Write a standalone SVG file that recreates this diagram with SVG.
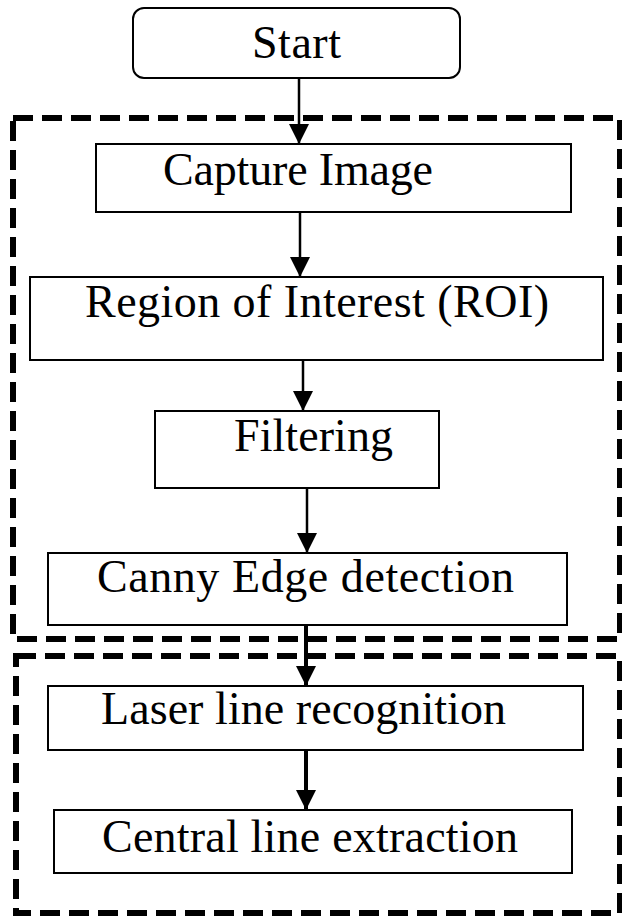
<svg xmlns="http://www.w3.org/2000/svg" width="622" height="918" viewBox="0 0 622 918">
<style>
.box{fill:#fff;stroke:#000;stroke-width:2}
.grp{fill:none;stroke:#000;stroke-width:6;stroke-dasharray:20 9}
.lbl{font-family:"Liberation Serif","Times New Roman",serif;font-size:46px;fill:#000}
.c{stroke:#000;stroke-width:2.5;fill:none}
.ct{stroke:#000;stroke-width:4;fill:none}
</style>
<defs>
<marker id="ah" markerUnits="userSpaceOnUse" markerWidth="20" markerHeight="20" refX="20" refY="10" orient="auto" viewBox="0 0 20 20">
<path d="M0,0 L20,10 L0,20 Z" fill="#000"/>
</marker>
</defs>
<rect width="622" height="918" fill="#fff"/>
<g id="groups">
<rect class="grp" x="13" y="118" width="607" height="521"/>
<rect class="grp" x="16" y="656" width="604" height="257"/>
</g>
<g id="start"><rect class="box" x="133" y="8" width="327" height="70" rx="11"/><text class="lbl" x="252" y="58" textLength="89">Start</text></g>
<g id="capture"><rect class="box" x="96" y="144" width="475" height="68"/><text class="lbl" x="163" y="185" textLength="270">Capture Image</text></g>
<g id="roi"><rect class="box" x="30" y="277" width="573" height="83"/><text class="lbl" x="85" y="317" textLength="464">Region  of Interest (ROI)</text></g>
<g id="filtering"><rect class="box" x="155" y="411" width="284" height="77"/><text class="lbl" x="234" y="451" textLength="159">Filtering</text></g>
<g id="canny"><rect class="box" x="48" y="553" width="519" height="72"/><text class="lbl" x="97" y="592" textLength="417">Canny Edge detection</text></g>
<g id="laser"><rect class="box" x="48" y="686" width="535" height="64"/><text class="lbl" x="101" y="724" textLength="405">Laser line recognition</text></g>
<g id="central"><rect class="box" x="54" y="810" width="518" height="63"/><text class="lbl" x="102" y="852" textLength="416">Central line extraction</text></g>
<g id="connectors">
<line class="c" x1="299" y1="78" x2="299" y2="144" marker-end="url(#ah)"/>
<line class="c" x1="300" y1="212" x2="300" y2="277" marker-end="url(#ah)"/>
<line class="c" x1="303" y1="360" x2="303" y2="411" marker-end="url(#ah)"/>
<line class="c" x1="307" y1="488" x2="307" y2="553" marker-end="url(#ah)"/>
<line class="ct" x1="306" y1="625" x2="306" y2="686" marker-end="url(#ah)"/>
<line class="ct" x1="306" y1="750" x2="306" y2="810" marker-end="url(#ah)"/>
</g>
</svg>
